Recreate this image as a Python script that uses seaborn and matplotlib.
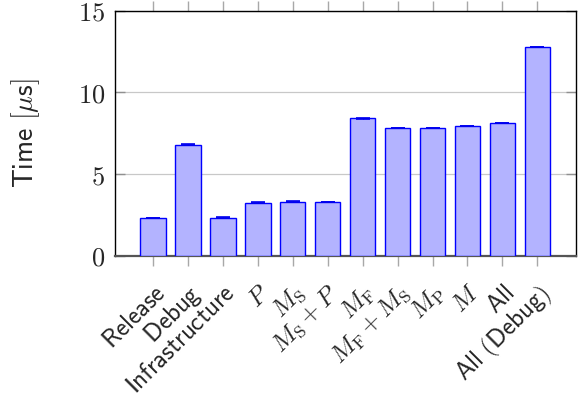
import matplotlib
matplotlib.use("Agg")
import matplotlib.pyplot as plt
import seaborn as sns
import pandas as pd

# Benchmark configurations and measured run times (microseconds)
configs = ["Release", "Debug", "Infrastructure", "P", "MS", "MS+P",
           "MF", "MF+MS", "MP", "M", "All", "All (Debug)"]
tick_labels = [r"$\mathsf{Release}$", r"$\mathsf{Debug}$", r"$\mathsf{Infrastructure}$",
               r"$P$", r"$M_\mathrm{S}$", r"$M_\mathrm{S} + P$",
               r"$M_\mathrm{F}$", r"$M_\mathrm{F} + M_\mathrm{S}$", r"$M_\mathrm{P}$",
               r"$M$", r"$\mathsf{All}$", r"$\mathsf{All\ (Debug)}$"]
times = [2.29, 6.80, 2.33, 3.25, 3.31, 3.29, 8.41, 7.84, 7.84, 7.96, 8.11, 12.80]
errors = [0.01, 0.01, 0.01, 0.01, 0.01, 0.01, 0.01, 0.01, 0.01, 0.01, 0.01, 0.01]
y_ticks = [0, 5, 10, 15]

df = pd.DataFrame({"config": configs, "time": times})

sns.set_style("white")
plt.rcParams["mathtext.fontset"] = "cm"

fig = plt.figure(figsize=(5.78, 3.98), dpi=100)
ax = fig.add_axes([0.1985, 0.3575, 0.7975, 0.6155])

sns.barplot(data=df, x="config", y="time", color="#b3b3ff", saturation=1,
            edgecolor="blue", linewidth=1.0, width=0.725, ax=ax, zorder=3)
ax.errorbar(range(len(times)), times, yerr=errors, fmt="none",
            ecolor="#0000ee", elinewidth=0.8, capsize=5, capthick=1.2, zorder=4)

ax.set_xlim(-1.1, 12.1)
ax.set_ylim(0, 15)
ax.set_yticks(y_ticks)
ax.set_yticklabels([f"${v}$" for v in y_ticks], fontsize=19)
ax.set_xticks(range(len(configs)))
ax.set_xticklabels(tick_labels, fontsize=18, rotation=45, ha="right",
                   va="top", rotation_mode="anchor")
ax.set_xlabel("")
ax.set_ylabel(r"$\mathsf{Time\ [}\mu\mathsf{s]}$", fontsize=20, labelpad=26)

# horizontal grid lines
ax.yaxis.grid(True, color="#c8c8c8", linewidth=0.9, zorder=0)
ax.set_axisbelow(True)

# x ticks outside on both bottom and top, y ticks inside on both sides
ax.tick_params(axis="x", which="both", bottom=True, top=True, direction="out",
               length=7, width=1.0, color="#a8a8a8", pad=11)
ax.tick_params(axis="y", which="both", left=True, right=True, direction="in",
               length=7, width=1.0, color="#909090", pad=7)

for side in ["top", "right", "left"]:
    ax.spines[side].set_color("black")
    ax.spines[side].set_linewidth(1.0)
ax.spines["bottom"].set_color("#555555")
ax.spines["bottom"].set_linewidth(1.6)

fig.savefig("out.png", dpi=100)
